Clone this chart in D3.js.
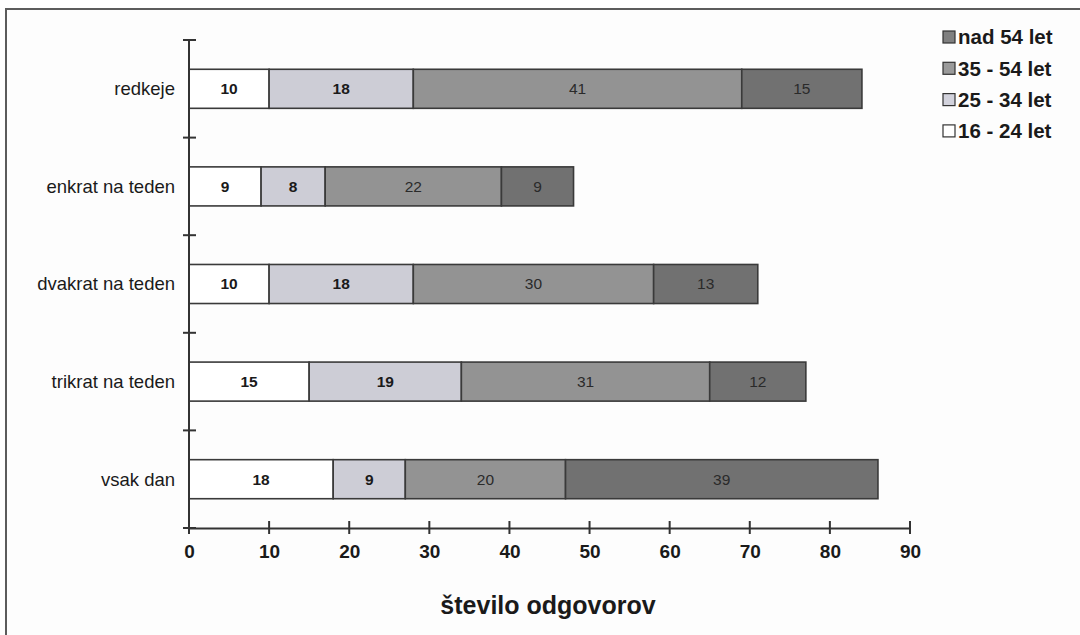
<!DOCTYPE html>
<html><head><meta charset="utf-8">
<script src="https://cdn.jsdelivr.net/npm/d3@7"></script>
<style>body{margin:0;background:#fdfdfd;} svg{display:block;font-family:"Liberation Sans",Arial,sans-serif;}</style>
</head><body>
<script>
const categories = ["redkeje", "enkrat na teden", "dvakrat na teden", "trikrat na teden", "vsak dan"];
const seriesNames = ["16 - 24 let", "25 - 34 let", "35 - 54 let", "nad 54 let"];
const s1624 = [10, 9, 10, 15, 18];
const s2534 = [18, 8, 18, 19, 9];
const s3554 = [41, 22, 30, 31, 20];
const sNad54 = [15, 9, 13, 12, 39];
const xTicks = [0, 10, 20, 30, 40, 50, 60, 70, 80, 90];
const colors = ["#ffffff", "#cdcdd6", "#939393", "#717171"];
const legendColors = ["#ffffff", "#d2d2dc", "#9a9a9a", "#808080"];

const W = 1080, H = 635;
const svg = d3.select("body").append("svg").attr("width", W).attr("height", H);
svg.append("rect").attr("width", W).attr("height", H).attr("fill", "#fdfdfd");
// frame
svg.append("path").attr("d", "M6,635 V9 H1080").attr("fill", "none").attr("stroke", "#5a5a5a").attr("stroke-width", 2);

const x = d3.scaleLinear().domain([0, 90]).range([189, 910]);
const y = d3.scaleBand().domain(categories).range([40, 528]).padding(0);
const barH = y.bandwidth() * 0.4;

const rows = categories.map((c, i) => {
  const vals = [s1624[i], s2534[i], s3554[i], sNad54[i]];
  let acc = 0;
  return vals.map((v, k) => { const o = {cat: c, k, v, x0: acc, x1: acc + v}; acc += v; return o; });
}).flat();

const g = svg.append("g");
g.selectAll("rect.bar").data(rows).join("rect").attr("class", "bar")
  .attr("x", d => x(d.x0)).attr("width", d => x(d.x1) - x(d.x0))
  .attr("y", d => y(d.cat) + (y.bandwidth() - barH) / 2).attr("height", barH)
  .attr("fill", d => colors[d.k]).attr("stroke", "#3a3a3a").attr("stroke-width", 1.6);

g.selectAll("text.val").data(rows).join("text").attr("class", "val")
  .attr("x", d => (x(d.x0) + x(d.x1)) / 2).attr("y", d => y(d.cat) + y.bandwidth() / 2)
  .attr("dy", "0.35em").attr("text-anchor", "middle")
  .attr("font-size", 15.5).attr("font-weight", d => d.k >= 2 ? "normal" : "bold")
  .attr("fill", d => d.k >= 2 ? "#2a2a2a" : "#1a1a1a").text(d => d.v);

// y axis
const axColor = "#333";
svg.append("line").attr("x1", 189).attr("x2", 189).attr("y1", 40).attr("y2", 528).attr("stroke", axColor).attr("stroke-width", 2);
const yTickPos = categories.map(c => y(c)).concat([y.range()[1]]);
svg.selectAll("line.yt").data(yTickPos).join("line").attr("class", "yt")
  .attr("x1", 183).attr("x2", 196).attr("y1", d => d).attr("y2", d => d)
  .attr("stroke", axColor).attr("stroke-width", 2);
svg.selectAll("text.cat").data(categories).join("text").attr("class", "cat")
  .attr("x", 175).attr("y", d => y(d) + y.bandwidth() / 2).attr("dy", "0.35em")
  .attr("text-anchor", "end").attr("font-size", 18.5).attr("fill", "#1a1a1a").text(d => d);

// x axis
const xa = svg.append("g").attr("transform", "translate(0,528)")
  .call(d3.axisBottom(x).tickValues(xTicks).tickSizeInner(0).tickSizeOuter(0).tickPadding(17));
xa.select(".domain").attr("stroke", axColor).attr("stroke-width", 2);
xa.selectAll("text").attr("font-size", 19).attr("font-weight", "bold").attr("fill", "#1a1a1a").attr("font-family", "Liberation Sans, Arial, sans-serif");
svg.selectAll("line.xt").data(xTicks).join("line").attr("class", "xt")
  .attr("x1", d => x(d)).attr("x2", d => x(d)).attr("y1", 521).attr("y2", 534)
  .attr("stroke", axColor).attr("stroke-width", 2);

svg.append("text").attr("x", 548).attr("y", 614).attr("text-anchor", "middle")
  .attr("font-size", 25).attr("font-weight", "bold").attr("fill", "#1a1a1a").text("število odgovorov");

// legend
const legOrder = [3, 2, 1, 0];
const lg = svg.selectAll("g.leg").data(legOrder).join("g").attr("class", "leg")
  .attr("transform", (d, i) => `translate(943,${37 + i * 31.3})`);
lg.append("rect").attr("x", 0).attr("y", -6).attr("width", 12).attr("height", 12)
  .attr("fill", d => legendColors[d]).attr("stroke", "#333").attr("stroke-width", 1.2);
lg.append("text").attr("x", 15).attr("dy", "0.36em").attr("font-size", 20.5).attr("font-weight", "bold")
  .attr("fill", "#1a1a1a").text(d => seriesNames[d]);
</script>
</body></html>
